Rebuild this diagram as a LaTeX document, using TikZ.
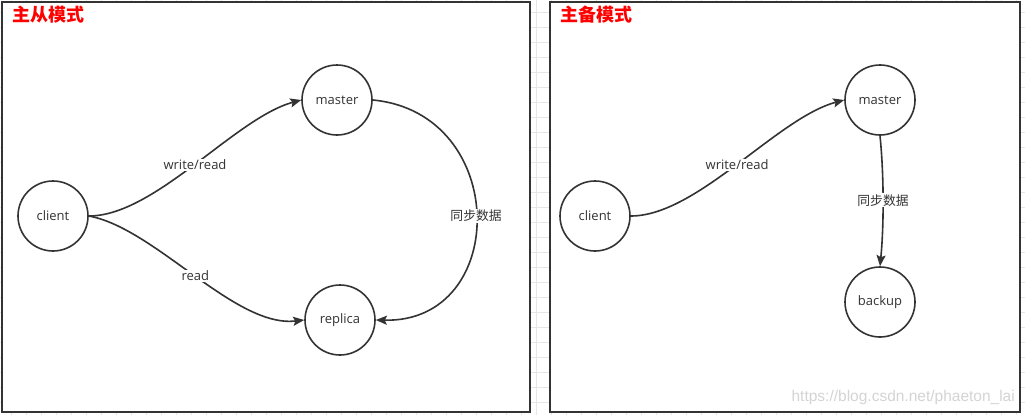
\documentclass[tikz,border=0pt]{standalone}
\usepackage{fontspec}
\setmainfont{Open Sans}
\newfontfamily\cjk{Noto Sans CJK SC}
\newfontfamily\wmfont{Liberation Sans}
\usetikzlibrary{arrows.meta}
\definecolor{ink}{HTML}{333333}
\definecolor{gridc}{HTML}{E6E6E6}
\definecolor{wm}{HTML}{D4D4D4}
\tikzset{
  panel/.style={draw=ink,line width=2pt,fill=white},
  state/.style={circle,draw=ink,line width=1.6pt,minimum size=70pt,inner sep=0pt,text=ink,font=\fontsize{13}{15}\selectfont},
  link/.style={draw=ink,line width=1.6pt,-{Stealth[length=11pt,width=9pt,inset=2pt]}},
  lab/.style={fill=white,inner sep=1pt,text=ink,font=\fontsize{13}{15}\selectfont},
  cjklab/.style={fill=white,inner sep=1pt,text=ink,font=\cjk\fontsize{12.8}{15}\selectfont},
  title/.style={anchor=west,text=red,font=\cjk\bfseries\fontsize{18}{20}\selectfont,inner sep=0pt}
}
\begin{document}
\begin{tikzpicture}[x=1pt,y=-1pt]
\useasboundingbox (0,0) rectangle (1025,415);
\fill[white] (0,0) rectangle (1025,415);
% background grid
\begin{scope}
\clip (0,0) rectangle (1025,415);
\foreach \i in {0,...,69} {\draw[gridc,line width=0.8pt] (11.5+15*\i,0) -- (11.5+15*\i,415);}
\foreach \j in {0,...,27} {\draw[gridc,line width=0.8pt] (0,12.5+15*\j) -- (1025,12.5+15*\j);}
\end{scope}
% panels
\draw[panel] (2,2) rectangle (530,412);
\draw[panel] (550,2) rectangle (1020,412);
\node[title] (t1) at (12,15) {主从模式};
\node[title] (t2) at (560,15) {主备模式};
% left panel
\node[state] (c1) at (53,216) {client};
\node[state] (m1) at (337,100) {master};
\node[state] (r1) at (340,320) {replica};
\draw[link] (c1.east) .. controls (155,216) and (235,118) .. node[lab,pos=0.5] (l1) {write/read} (m1.west);
\draw[link] (c1.east) .. controls (155,228) and (235,328) .. node[lab,pos=0.5] (l2) {read} (r1.west);
\draw[link] (m1.east) .. controls (510,113) and (510,323) .. node[cjklab,pos=0.5] (l3) {同步数据} (r1.east);
% right panel
\node[state] (c2) at (595,216) {client};
\node[state] (m2) at (880,100) {master};
\node[state] (b2) at (880,302) {backup};
\draw[link] (c2.east) .. controls (697,216) and (777,118) .. node[lab,pos=0.5] (l4) {write/read} (m2.west);
\draw[link] (m2.south) .. controls (884,175) and (884,225) .. node[cjklab,pos=0.5] (l5) {同步数据} (b2.north);
% watermark
\node[anchor=east,text=wm,font=\wmfont\fontsize{15.5}{17}\selectfont,inner sep=0pt] (wmk) at (1015,397) {https://blog.csdn.net/phaeton\_lai};
\end{tikzpicture}
\end{document}
